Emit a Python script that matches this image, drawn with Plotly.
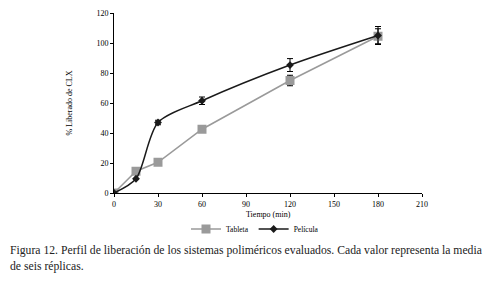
import plotly.graph_objects as go

time = [0, 15, 30, 60, 120, 180]
tableta = [0, 14.5, 20.5, 42.5, 75, 104.5]
tableta_err = [0, 0, 0, 0, 3.5, 5]
pelicula = [0, 9.5, 47, 61.5, 85.3, 105]
pelicula_err = [0, 0, 1.5, 2.5, 4.3, 6]
x_ticks = [0, 30, 60, 90, 120, 150, 180, 210]
y_ticks = [0, 20, 40, 60, 80, 100, 120]
caption = [
    "Figura 12. Perfil de liberación de los sistemas poliméricos evaluados. Cada valor representa la media",
    "de seis réplicas.",
]

serif = "Liberation Serif"
# page body has an 8px margin, so the figure is drawn 8px in from the corner
W, H = 486, 273
PH = 180  # plot height in px
PW = 308  # plot width in px

fig = go.Figure()
fig.add_trace(go.Scatter(
    x=time, y=tableta, name="Tableta", mode="lines+markers",
    line=dict(color="#9a9a9a", width=1.5),
    marker=dict(symbol="square", size=9, color="#9a9a9a"),
    error_y=dict(type="data", array=tableta_err, color="black", thickness=1, width=3),
))
fig.add_trace(go.Scatter(
    x=time, y=pelicula, name="Película", mode="lines+markers",
    line=dict(color="#1a1a1a", width=1.5, shape="spline", smoothing=0.8),
    marker=dict(symbol="diamond", size=6, color="#1a1a1a"),
    error_y=dict(type="data", array=pelicula_err, color="black", thickness=1, width=3),
))

fig.update_layout(
    width=W, height=H,
    margin=dict(l=106, r=72, t=5, b=88, autoexpand=False),
    paper_bgcolor="white", plot_bgcolor="white",
    font=dict(family=serif, size=8, color="black"),
    showlegend=True,
    legend=dict(orientation="h", x=(247 - 106) / PW, xanchor="center",
                y=-(221 - 185) / PH, yanchor="middle",
                font=dict(size=7.5), itemwidth=30, tracegroupgap=0,
                bgcolor="rgba(0,0,0,0)"),
    xaxis=dict(range=[0, 210], tickvals=x_ticks, showline=True, linecolor="black",
               linewidth=1, ticks="outside", ticklen=3, tickcolor="black",
               showgrid=False, zeroline=False, automargin=False),
    yaxis=dict(range=[0, 120], tickvals=y_ticks, showline=True, linecolor="black",
               linewidth=1, ticks="outside", ticklen=3, tickcolor="black",
               showgrid=False, zeroline=False, automargin=False,
               title=dict(text="% Liberado de CLX", font=dict(size=8), standoff=22)),
)

fig.add_annotation(
    text="Tiempo (min)", xref="paper", yref="paper", x=0.5, y=-(206 - 185) / PH,
    xanchor="center", yanchor="middle", showarrow=False, font=dict(size=8),
)

for line_text, cy in zip(caption, [242, 258]):
    fig.add_annotation(
        text=line_text,
        xref="paper", yref="paper", x=-106 / PW, y=-(cy - 185) / PH,
        xanchor="left", yanchor="middle",
        showarrow=False, align="left", font=dict(family=serif, size=11.7, color="#222"),
    )

fig.write_html("out.html")
